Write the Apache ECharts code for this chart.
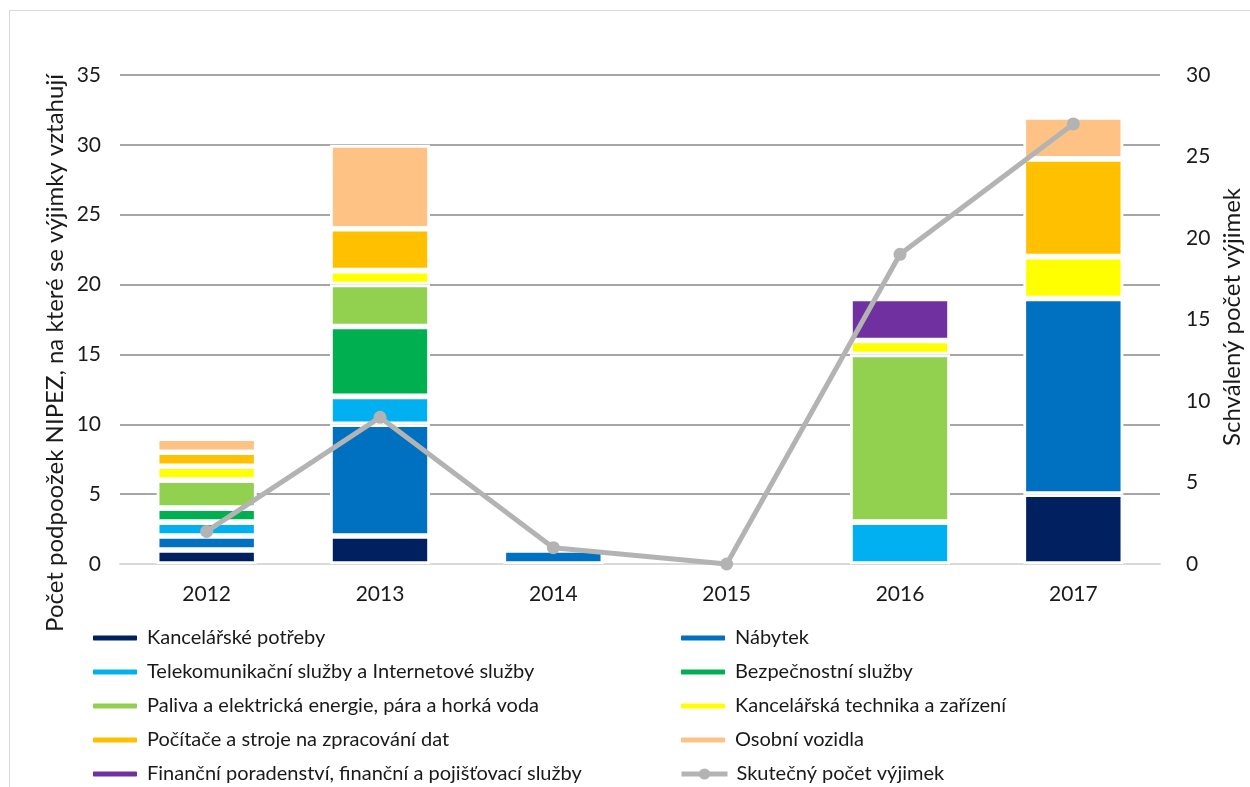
<!DOCTYPE html>
<html>
<head>
<meta charset="utf-8">
<script src="https://cdn.jsdelivr.net/npm/echarts@6/dist/echarts.min.js"></script>
<style>
  html, body { margin: 0; padding: 0; background: #fff; }
  #frame { position: absolute; left: 9px; top: 10px; width: 1260px; height: 800px; border: 1px solid #d9d9d9; }
  #chart { position: absolute; left: 0; top: 0; width: 1250px; height: 787px; }
</style>
</head>
<body>
<div id="frame"></div>
<div id="chart"></div>
<script>
// roky
var years = ['2012', '2013', '2014', '2015', '2016', '2017'];

// pocty podpolozek podle kategorie
var kancelarskePotreby = [1, 2, 0, 0, 0, 5];
var nabytek = [1, 8, 1, 0, 0, 14];
var telekom = [1, 2, 0, 0, 3, 0];
var bezpecnostni = [1, 5, 0, 0, 0, 0];
var paliva = [2, 3, 0, 0, 12, 0];
var technika = [1, 1, 0, 0, 1, 3];
var pocitace = [1, 3, 0, 0, 0, 7];
var vozidla = [1, 6, 0, 0, 0, 3];
var financni = [0, 0, 0, 0, 3, 0];

// skutecny pocet vyjimek (prava osa)
var pocetVyjimek = [2, 9, 1, 0, 19, 27];

var leftTicks = { min: 0, max: 35, interval: 5 };
var rightTicks = { min: 0, max: 30, interval: 5 };

var font = 'Lato';
var textColor = '#1a1a1a';
var lineColor = '#b3b3b3';

var chart = echarts.init(document.getElementById('chart'));

function bar(name, data, color) {
  return {
    name: name,
    type: 'bar',
    stack: 'total',
    barWidth: 100,
    data: data.map(function (v) { return v === 0 ? '-' : v; }),
    itemStyle: { color: color, borderColor: '#fff', borderWidth: 2.8 }
  };
}

var series = [
  bar('Kancelářské potřeby', kancelarskePotreby, '#002060'),
  bar('Nábytek', nabytek, '#0070c0'),
  bar('Telekomunikační služby a Internetové služby', telekom, '#00b0f0'),
  bar('Bezpečnostní služby', bezpecnostni, '#00b050'),
  bar('Paliva a elektrická energie, pára a horká voda', paliva, '#92d050'),
  bar('Kancelářská technika a zařízení', technika, '#ffff00'),
  bar('Počítače a stroje na zpracování dat', pocitace, '#ffc000'),
  bar('Osobní vozidla', vozidla, '#ffc285'),
  bar('Finanční poradenství, finanční a pojišťovací služby', financni, '#7030a0'),
  {
    name: 'Skutečný počet výjimek',
    type: 'line',
    yAxisIndex: 1,
    data: pocetVyjimek,
    z: 5,
    symbol: 'circle',
    symbolSize: 13,
    lineStyle: { color: lineColor, width: 5 },
    itemStyle: { color: lineColor }
  }
];

var barNames = series.slice(0, 9).map(function (s) { return s.name; });
var legendText = { fontFamily: font, fontSize: 20, color: textColor, lineHeight: 20, padding: [0, 0, 0, 4] };

var option = {
  animation: false,
  textStyle: { fontFamily: font },
  grid: { left: 120, right: 90, top: 75, bottom: 223 },
  legend: [
    {
      orient: 'vertical', left: 91, top: 628, itemGap: 14, padding: 0,
      itemWidth: 46, itemHeight: 7,
      data: barNames.filter(function (n, i) { return i % 2 === 0; }),
      textStyle: legendText
    },
    {
      orient: 'vertical', left: 679, top: 628, itemGap: 14, padding: 0,
      itemWidth: 46, itemHeight: 7,
      data: barNames.filter(function (n, i) { return i % 2 === 1; }),
      textStyle: legendText
    },
    {
      // cara s bodem v legende zvlast, aby byl bod vetsi
      orient: 'vertical', left: 679, top: 764, padding: 0,
      itemWidth: 46, itemHeight: 14,
      data: ['Skutečný počet výjimek'],
      lineStyle: { width: 5 },
      textStyle: legendText
    }
  ],
  xAxis: {
    type: 'category',
    data: years,
    axisLine: { lineStyle: { color: '#d9d9d9', width: 2 } },
    axisTick: { show: false },
    axisLabel: { fontFamily: font, fontSize: 21, color: textColor, margin: 20 }
  },
  yAxis: [
    {
      type: 'value',
      min: leftTicks.min, max: leftTicks.max, interval: leftTicks.interval,
      axisLine: { show: false },
      axisTick: { show: false },
      axisLabel: { fontFamily: font, fontSize: 21, color: textColor, margin: 19 },
      splitLine: { lineStyle: { color: '#a6a6a6', width: 2 } }
    },
    {
      type: 'value',
      min: rightTicks.min, max: rightTicks.max, interval: rightTicks.interval,
      axisLine: { show: false },
      axisTick: { show: false },
      axisLabel: { fontFamily: font, fontSize: 21, color: textColor, margin: 26 },
      splitLine: { show: false }
    }
  ],
  // nazvy os
  graphic: [
    {
      type: 'text', x: 55, y: 353, rotation: Math.PI / 2,
      style: {
        text: 'Počet podpoožek NIPEZ, na které se výjimky vztahují',
        fontFamily: font, fontSize: 24, fill: textColor,
        align: 'center', verticalAlign: 'middle'
      }
    },
    {
      type: 'text', x: 1232, y: 317, rotation: Math.PI / 2,
      style: {
        text: 'Schválený počet výjimek',
        fontFamily: font, fontSize: 24, fill: textColor,
        align: 'center', verticalAlign: 'middle'
      }
    }
  ],
  series: series
};

chart.setOption(option);
</script>
</body>
</html>
